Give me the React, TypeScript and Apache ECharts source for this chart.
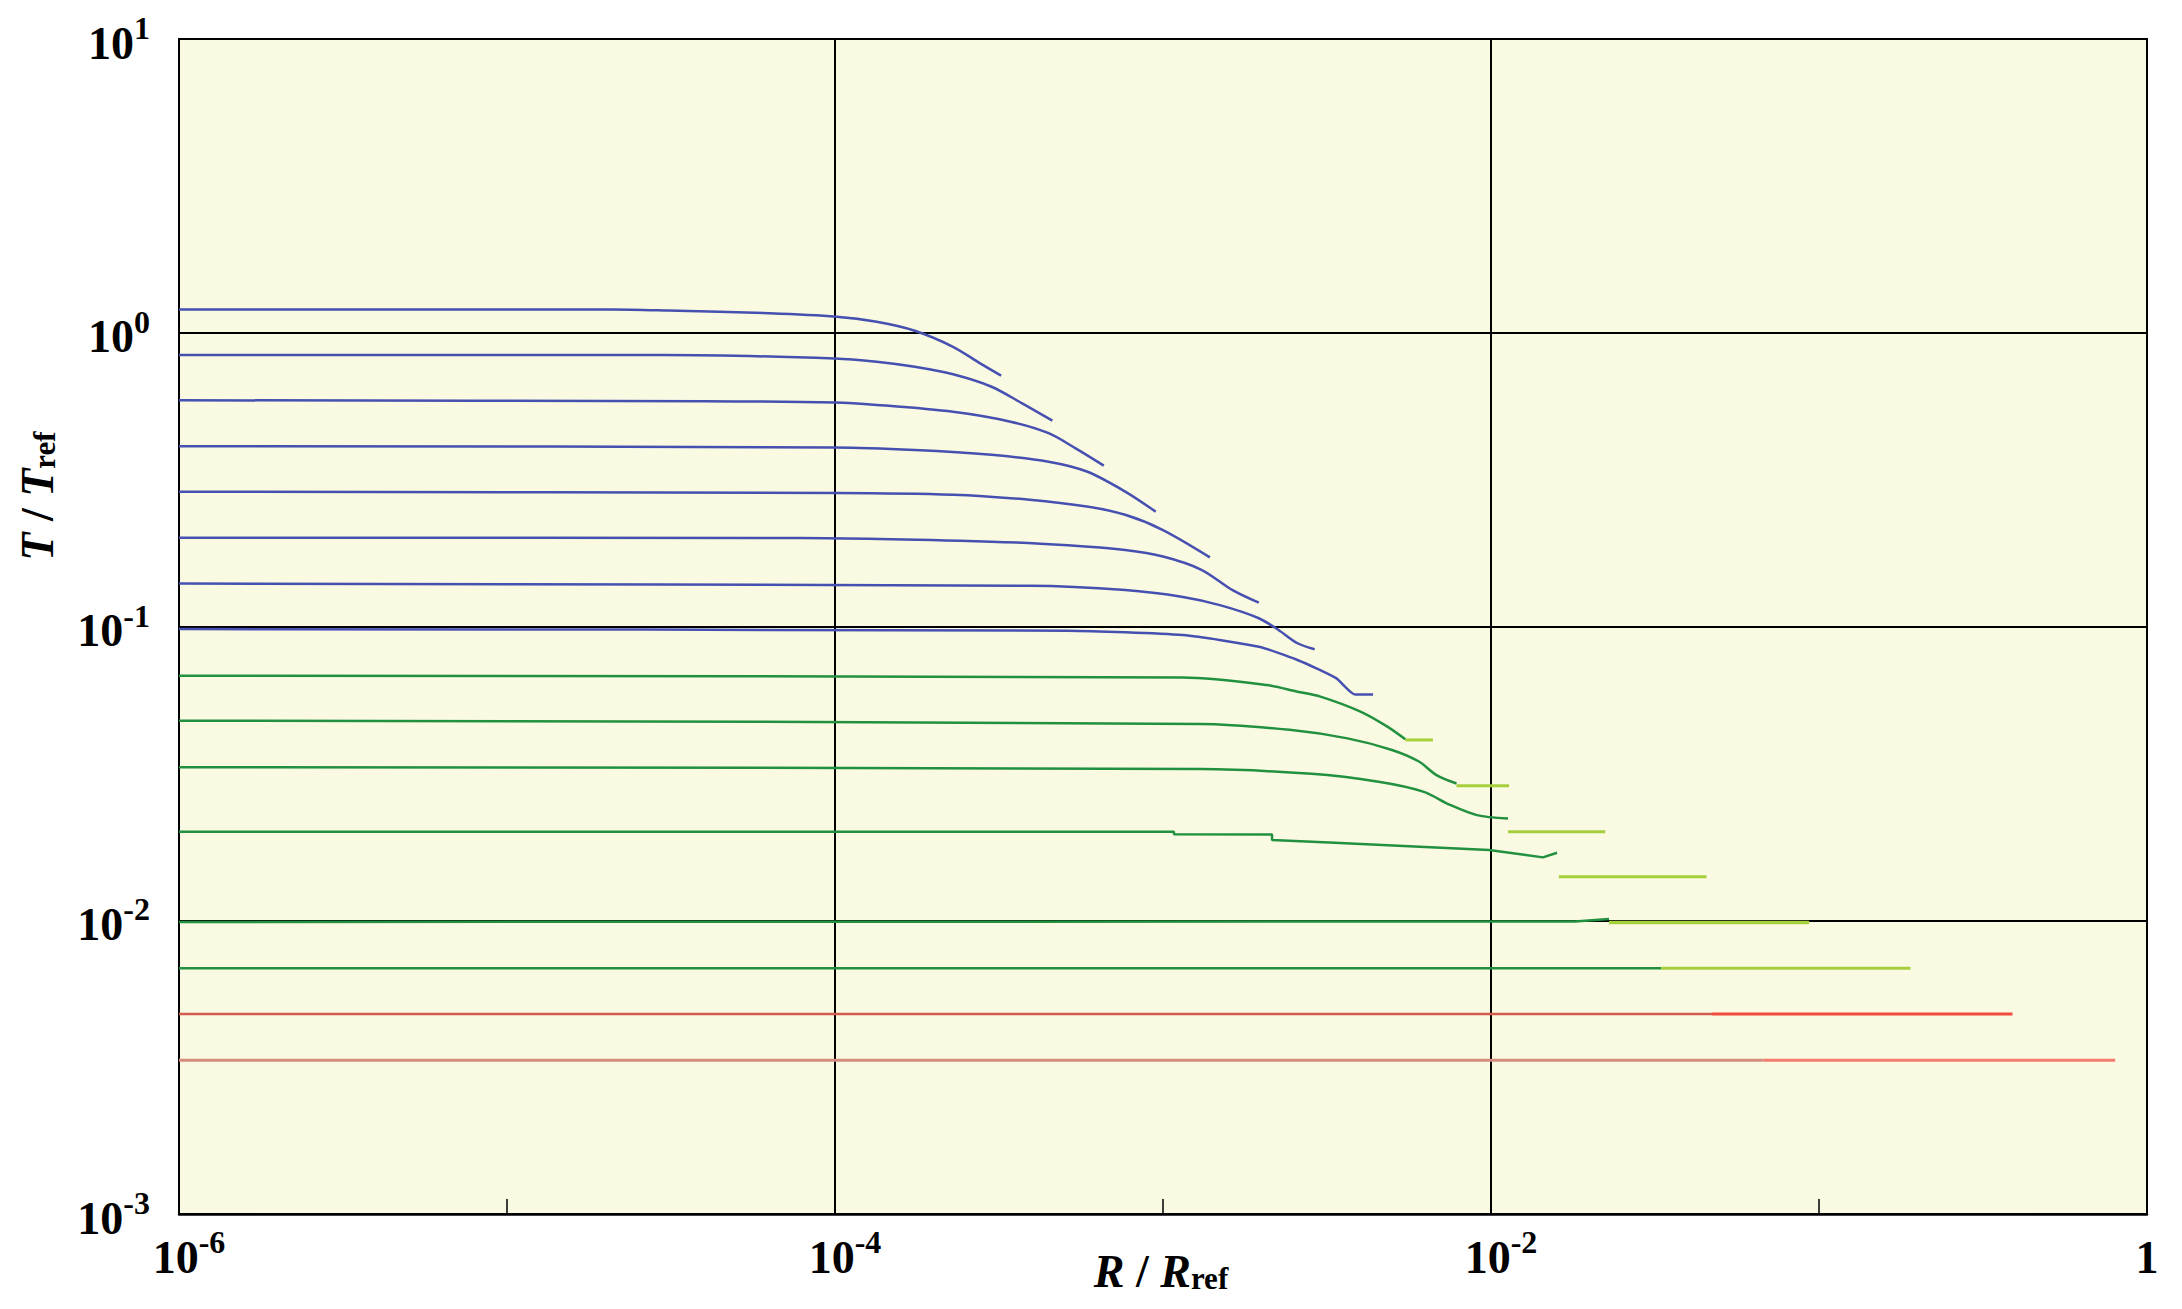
import React, { useEffect, useRef } from "react";
import * as echarts from "echarts";

type Pt = [number, number];

// ---- data: [R/Rref, T/Tref] ----
const blue1: Pt[] = [[1e-6, 1.2], [2.1e-5, 1.2], [3.1e-5, 1.19], [6.3e-5, 1.165], [1.01e-4, 1.134], [1.34e-4, 1.09], [1.75e-4, 1.016], [2.29e-4, 0.896], [2.77e-4, 0.787], [3.21e-4, 0.715]];
const blue2: Pt[] = [[1e-6, 0.84], [3.0e-5, 0.84], [1e-4, 0.818], [1.34e-4, 0.797], [1.75e-4, 0.766], [2.29e-4, 0.722], [3.0e-4, 0.655], [3.72e-4, 0.575], [4.6e-4, 0.502]];
const blue3: Pt[] = [[1e-6, 0.589], [4e-5, 0.585], [1e-4, 0.579], [1.34e-4, 0.568], [2.29e-4, 0.538], [3.43e-4, 0.498], [4.48e-4, 0.455], [5.4e-4, 0.405], [6.6e-4, 0.353]];
const blue4: Pt[] = [[1e-6, 0.411], [1e-4, 0.407], [1.75e-4, 0.399], [3.0e-4, 0.384], [4.48e-4, 0.364], [5.86e-4, 0.337], [7.67e-4, 0.288], [9.5e-4, 0.246]];
const blue5: Pt[] = [[1e-6, 0.2875], [1e-4, 0.285], [2.29e-4, 0.281], [3.92e-4, 0.27], [5.86e-4, 0.256], [7.67e-4, 0.24], [1.0e-3, 0.213], [1.39e-3, 0.172]];
const blue6: Pt[] = [[1e-6, 0.2005], [7.8e-5, 0.2], [3.0e-4, 0.1945], [5.13e-4, 0.189], [7.67e-4, 0.182], [1.0e-3, 0.173], [1.31e-3, 0.156], [1.63e-3, 0.133], [1.96e-3, 0.1205]];
const blue7: Pt[] = [[1e-6, 0.14], [3.92e-4, 0.1375], [7.67e-4, 0.133], [1.15e-3, 0.126], [1.5e-3, 0.118], [1.96e-3, 0.1067], [2.25e-3, 0.0973], [2.57e-3, 0.0877], [2.9e-3, 0.0837]];
const blue8: Pt[] = [[1e-6, 0.098], [5.13e-4, 0.0968], [1.15e-3, 0.0935], [1.96e-3, 0.0853], [2.57e-3, 0.0769], [3.37e-3, 0.0667], [3.85e-3, 0.0587], [4.37e-3, 0.0587]];

const green9: Pt[] = [[1e-6, 0.068], [1.15e-3, 0.067], [2.07e-3, 0.0632], [2.57e-3, 0.06], [3.02e-3, 0.0577], [4.0e-3, 0.0513], [4.83e-3, 0.0456], [5.48e-3, 0.0413]];
const green10: Pt[] = [[1e-6, 0.0478], [1.3e-3, 0.0466], [2.43e-3, 0.0445], [3.65e-3, 0.0416], [4.99e-3, 0.038], [6.03e-3, 0.0347], [6.82e-3, 0.0312], [7.85e-3, 0.0292]];
const green11: Pt[] = [[1e-6, 0.0332], [1.3e-3, 0.0327], [2.84e-3, 0.0315], [4.54e-3, 0.0296], [6.21e-3, 0.0274], [7.5e-3, 0.0247], [9.06e-3, 0.0228], [1.127e-2, 0.0222]];
const green12: Pt[] = [[1e-6, 0.02], [5.36e-4, 0.02], [1.08e-3, 0.02], [1.08e-3, 0.01961], [2.15e-3, 0.0196], [2.15e-3, 0.01875], [3.21e-3, 0.0184], [9.86e-3, 0.01734], [1.44e-2, 0.01637], [1.59e-2, 0.01698]];
const green13: Pt[] = [[1e-6, 0.00987], [1.8e-2, 0.0099], [2.29e-2, 0.0101]];
const green14: Pt[] = [[1e-6, 0.00686], [3.3e-2, 0.00686]];

const tail9: Pt[] = [[5.48e-3, 0.0411], [6.65e-3, 0.0411]];
const tail10: Pt[] = [[7.85e-3, 0.0287], [1.135e-2, 0.0287]];
const tail11: Pt[] = [[1.127e-2, 0.02], [2.23e-2, 0.02]];
const tail12: Pt[] = [[1.61e-2, 0.01406], [4.54e-2, 0.01406]];
const tail13: Pt[] = [[2.29e-2, 0.00982], [9.33e-2, 0.00982]];
const tail14: Pt[] = [[3.3e-2, 0.00686], [0.19, 0.00686]];

const red15: Pt[] = [[1e-6, 0.0048], [4.72e-2, 0.0048]];
const red15Tail: Pt[] = [[4.72e-2, 0.0048], [0.389, 0.0048]];
const red16: Pt[] = [[1e-6, 0.00334], [6.78e-2, 0.00334]];
const red16Tail: Pt[] = [[6.78e-2, 0.00334], [0.8, 0.00334]];

// axis ranges
const xRange = [1e-6, 1];
const yRange = [1e-3, 10];

// axis titles
const xTitle = "{i|R}{n| / }{i|R}{s|ref}";
const yTitle = "{i|T}{n| / }{i|T}{s|ref}";

// ---- styles ----
const BLUE = "#4650B0";
const GREEN = "#21903F";
const LIME = "#A6CF3C";
const RED_DARK = "#D25A4E";
const RED = "#F04A3A";
const SALMON_DARK = "#D48C7E";
const SALMON = "#F47C6C";
const SERIF = "'Liberation Serif', 'Times New Roman', serif";

const lines: { data: Pt[]; color: string; width: number; smooth: number }[] = [
  { data: blue1, color: BLUE, width: 2.5, smooth: 0.3 },
  { data: blue2, color: BLUE, width: 2.5, smooth: 0.3 },
  { data: blue3, color: BLUE, width: 2.5, smooth: 0.3 },
  { data: blue4, color: BLUE, width: 2.5, smooth: 0.3 },
  { data: blue5, color: BLUE, width: 2.5, smooth: 0.3 },
  { data: blue6, color: BLUE, width: 2.5, smooth: 0.3 },
  { data: blue7, color: BLUE, width: 2.5, smooth: 0.3 },
  { data: blue8, color: BLUE, width: 2.5, smooth: 0.2 },
  { data: green9, color: GREEN, width: 2.5, smooth: 0.3 },
  { data: green10, color: GREEN, width: 2.5, smooth: 0.3 },
  { data: green11, color: GREEN, width: 2.5, smooth: 0.3 },
  { data: green12, color: GREEN, width: 2.5, smooth: 0 },
  { data: green13, color: GREEN, width: 2.5, smooth: 0 },
  { data: green14, color: GREEN, width: 2.5, smooth: 0 },
  { data: tail9, color: LIME, width: 3, smooth: 0 },
  { data: tail10, color: LIME, width: 3, smooth: 0 },
  { data: tail11, color: LIME, width: 3, smooth: 0 },
  { data: tail12, color: LIME, width: 3, smooth: 0 },
  { data: tail13, color: LIME, width: 3.5, smooth: 0 },
  { data: tail14, color: LIME, width: 3, smooth: 0 },
  { data: red15, color: RED_DARK, width: 2.5, smooth: 0 },
  { data: red15Tail, color: RED, width: 3, smooth: 0 },
  { data: red16, color: SALMON_DARK, width: 3, smooth: 0 },
  { data: red16Tail, color: SALMON, width: 3, smooth: 0 },
];

const labelRich = {
  b: { fontFamily: SERIF, fontWeight: "bold", fontSize: 46, color: "#000", lineHeight: 54, verticalAlign: "bottom" },
  bp: { fontFamily: SERIF, fontWeight: "bold", fontSize: 46, color: "#000", lineHeight: 54, verticalAlign: "bottom", padding: [0, 0, 0, 20] },
  s: { fontFamily: SERIF, fontWeight: "bold", fontSize: 32, color: "#000", lineHeight: 32, verticalAlign: "top" },
};

const nameRich = {
  i: { fontFamily: SERIF, fontWeight: "bold", fontStyle: "italic", fontSize: 46, fill: "#000", color: "#000", lineHeight: 46, verticalAlign: "bottom" },
  n: { fontFamily: SERIF, fontWeight: "bold", fontSize: 46, fill: "#000", color: "#000", lineHeight: 46, verticalAlign: "bottom" },
  s: { fontFamily: SERIF, fontWeight: "bold", fontSize: 31, fill: "#000", color: "#000", lineHeight: 31, verticalAlign: "bottom" },
};

export default function App() {
  const ref = useRef<HTMLDivElement>(null);
  useEffect(() => {
    if (!ref.current) return;
    const chart = echarts.init(ref.current, null, { renderer: "svg" });
    chart.setOption({
      animation: false,
      backgroundColor: "#ffffff",
      grid: {
        left: 179,
        top: 39,
        right: 35,
        bottom: 95,
        show: true,
        backgroundColor: "#FAFAE2",
        borderColor: "#000",
        borderWidth: 2,
        containLabel: false,
        outerBoundsMode: "none",
      },
      xAxis: {
        type: "log",
        logBase: 10,
        min: xRange[0],
        max: xRange[1],
        splitNumber: 6,
        axisLine: { show: true, lineStyle: { color: "#000", width: 2.5 } },
        axisTick: { show: true, inside: true, length: 15, lineStyle: { color: "#000", width: 1.5 } },
        splitLine: {
          show: true,
          showMinLine: true,
          showMaxLine: true,
          lineStyle: { color: ["#000", "rgba(0,0,0,0)"], width: 2 },
        },
        axisLabel: {
          margin: 12,
          showMinLabel: true,
          showMaxLabel: true,
          formatter: (v: number) => {
            const e = Math.round(Math.log10(v));
            if (e % 2 !== 0) return "";
            if (e === 0) return "{b|1}";
            return `{bp|10}{s|${e}}`;
          },
          rich: labelRich,
        },
      },
      yAxis: {
        type: "log",
        logBase: 10,
        min: yRange[0],
        max: yRange[1],
        splitNumber: 4,
        axisLine: { show: true, lineStyle: { color: "#000", width: 2 } },
        axisTick: { show: false },
        splitLine: { show: true, lineStyle: { color: "#000", width: 2 } },
        axisLabel: {
          margin: 29,
          showMinLabel: true,
          showMaxLabel: true,
          formatter: (v: number) => {
            const e = Math.round(Math.log10(v));
            return `{b|10}{s|${e}}`;
          },
          rich: labelRich,
        },
      },
      graphic: [
        {
          type: "text",
          x: 37,
          y: 496,
          rotation: Math.PI / 2,
          style: {
            text: yTitle,
            rich: nameRich,
            align: "center",
            verticalAlign: "middle",
          },
        },
        {
          type: "text",
          x: 1161,
          y: 1271,
          style: {
            text: xTitle,
            rich: nameRich,
            align: "center",
            verticalAlign: "middle",
          },
        },
      ],
      series: lines.map((l) => ({
        type: "line",
        data: l.data,
        showSymbol: false,
        symbol: "none",
        silent: true,
        smooth: l.smooth || false,
        lineStyle: { color: l.color, width: l.width },
        itemStyle: { color: l.color },
      })),
    });
    return () => chart.dispose();
  }, []);
  return (
    <div
      ref={ref}
      style={{ position: "fixed", left: 0, top: 0, width: 2182, height: 1309, background: "#fff" }}
    />
  );
}
